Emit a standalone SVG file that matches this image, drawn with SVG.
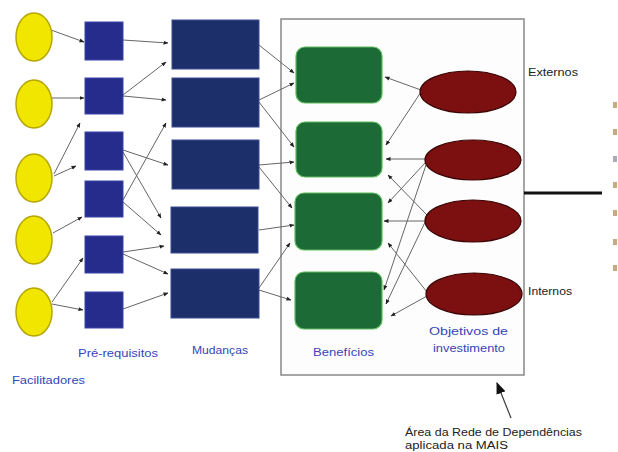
<svg xmlns="http://www.w3.org/2000/svg" width="618" height="452" viewBox="0 0 618 452">
<defs>
<marker id="ah" viewBox="0 0 10 10" refX="9" refY="5" markerWidth="5" markerHeight="5" markerUnits="userSpaceOnUse" orient="auto">
<path d="M0,1 L10,5 L0,9 z" fill="#222"/>
</marker>
<marker id="bigah" viewBox="0 0 10 10" refX="9" refY="5" markerWidth="12" markerHeight="12" markerUnits="userSpaceOnUse" orient="auto">
<path d="M0,1 L10,5 L0,9 z" fill="#111"/>
</marker>
</defs>
<style>
.fac{fill:#f0e600;stroke:#b5a600;stroke-width:1.5}
.pre{fill:#262c8c;stroke:#3a44a8;stroke-width:1}
.mud{fill:#1c2f6a;stroke:#3a4c90;stroke-width:1}
.ben{fill:#1c6a36;stroke:#5dbb5d;stroke-width:1.2}
.obj{fill:#7c1010;stroke:#3a0505;stroke-width:1.2}
.c line{stroke:#666;stroke-width:1;marker-end:url(#ah)}
.lbl{font-family:"Liberation Sans",Arial,sans-serif;font-size:10px;fill:#3446b8}
.blk{font-family:"Liberation Sans",Arial,sans-serif;font-size:10px;fill:#222}
</style>
<rect width="618" height="452" fill="#ffffff"/>
<rect id="area" x="281" y="19" width="243" height="356" fill="#fdfdfd" stroke="#888" stroke-width="1.5"/>
<g class="c" id="connectors">
<line x1="51" y1="30" x2="84" y2="42"/>
<line x1="52" y1="98" x2="84" y2="98"/>
<line x1="54" y1="174" x2="80" y2="123"/>
<line x1="54" y1="176" x2="76" y2="166"/>
<line x1="53" y1="233" x2="82" y2="217"/>
<line x1="52" y1="302" x2="83" y2="258"/>
<line x1="52" y1="304" x2="83" y2="310"/>
<line x1="123" y1="40" x2="168" y2="43"/>
<line x1="123" y1="95" x2="166" y2="62"/>
<line x1="123" y1="96" x2="166" y2="100"/>
<line x1="123" y1="150" x2="168" y2="165"/>
<line x1="123" y1="152" x2="161" y2="218"/>
<line x1="123" y1="200" x2="166" y2="123"/>
<line x1="123" y1="202" x2="161" y2="235"/>
<line x1="123" y1="252" x2="164" y2="246"/>
<line x1="123" y1="254" x2="168" y2="274"/>
<line x1="123" y1="309" x2="168" y2="293"/>
<line x1="259" y1="45" x2="294" y2="73"/>
<line x1="259" y1="100" x2="294" y2="83"/>
<line x1="259" y1="102" x2="294" y2="147"/>
<line x1="259" y1="165" x2="294" y2="162"/>
<line x1="259" y1="167" x2="292" y2="208"/>
<line x1="259" y1="230" x2="294" y2="225"/>
<line x1="259" y1="288" x2="290" y2="243"/>
<line x1="259" y1="290" x2="291" y2="300"/>
<line x1="421" y1="90" x2="385" y2="77"/>
<line x1="421" y1="92" x2="386" y2="145"/>
<line x1="425" y1="159" x2="386" y2="159"/>
<line x1="427" y1="215" x2="388" y2="175"/>
<line x1="425" y1="163" x2="388" y2="203"/>
<line x1="425" y1="221" x2="384" y2="221"/>
<line x1="427" y1="292" x2="388" y2="243"/>
<line x1="426" y1="165" x2="384" y2="290"/>
<line x1="427" y1="218" x2="386" y2="304"/>
<line x1="427" y1="296" x2="391" y2="316"/>
</g>
<g id="facilitadores">
<ellipse class="fac" cx="34" cy="37" rx="18" ry="24"/>
<ellipse class="fac" cx="34" cy="104" rx="18" ry="24"/>
<ellipse class="fac" cx="34" cy="178" rx="18" ry="24"/>
<ellipse class="fac" cx="34" cy="240" rx="18" ry="24"/>
<ellipse class="fac" cx="34" cy="312" rx="18" ry="24"/>
</g>
<g id="pre-requisitos">
<rect class="pre" x="85" y="22" width="38" height="38"/>
<rect class="pre" x="85" y="78" width="38" height="36"/>
<rect class="pre" x="85" y="132" width="38" height="38"/>
<rect class="pre" x="85" y="181" width="38" height="36"/>
<rect class="pre" x="85" y="236" width="38" height="37"/>
<rect class="pre" x="85" y="292" width="38" height="36"/>
</g>
<g id="mudancas">
<rect class="mud" x="172" y="20" width="87" height="49"/>
<rect class="mud" x="172" y="78" width="87" height="49"/>
<rect class="mud" x="172" y="140" width="87" height="49"/>
<rect class="mud" x="171" y="207" width="87" height="46"/>
<rect class="mud" x="171" y="269" width="88" height="49"/>
</g>
<g id="beneficios">
<rect class="ben" x="296" y="47" width="86" height="56" rx="9"/>
<rect class="ben" x="296" y="122" width="86" height="55" rx="9"/>
<rect class="ben" x="295" y="193" width="87" height="57" rx="9"/>
<rect class="ben" x="295" y="272" width="87" height="57" rx="9"/>
</g>
<g id="objetivos">
<ellipse class="obj" cx="468" cy="92" rx="48" ry="21"/>
<ellipse class="obj" cx="473" cy="160" rx="48" ry="20"/>
<ellipse class="obj" cx="473" cy="221" rx="48" ry="21"/>
<ellipse class="obj" cx="474" cy="294" rx="48" ry="21"/>
</g>
<g id="labels">
<text class="lbl" x="12" y="384" textLength="73" lengthAdjust="spacingAndGlyphs">Facilitadores</text>
<text class="lbl" x="78" y="357" textLength="80" lengthAdjust="spacingAndGlyphs">Pré-requisitos</text>
<text class="lbl" x="192" y="354" textLength="56" lengthAdjust="spacingAndGlyphs">Mudanças</text>
<text class="lbl" x="313" y="356" textLength="61" lengthAdjust="spacingAndGlyphs">Benefícios</text>
<text class="lbl" x="429" y="335" textLength="79" lengthAdjust="spacingAndGlyphs">Objetivos de</text>
<text class="lbl" x="433" y="352" textLength="72" lengthAdjust="spacingAndGlyphs">investimento</text>
<text class="blk" x="528" y="76" textLength="50" lengthAdjust="spacingAndGlyphs">Externos</text>
<text class="blk" x="528" y="295" textLength="44" lengthAdjust="spacingAndGlyphs">Internos</text>
<text class="blk" x="405" y="436" textLength="177" lengthAdjust="spacingAndGlyphs">Área da Rede de Dependências</text>
<text class="blk" x="405" y="449" textLength="103" lengthAdjust="spacingAndGlyphs">aplicada na MAIS</text>
</g>
<g id="annotation">
<line x1="511" y1="418" x2="497" y2="383" stroke="#333" stroke-width="1.2" marker-end="url(#bigah)"/>
<line x1="524" y1="193" x2="602" y2="193" stroke="#111" stroke-width="3"/>
</g>
<g id="cutoff" fill="#c9a97e">
<rect x="613" y="102" width="4" height="6"/>
<rect x="613" y="129" width="4" height="6"/>
<rect x="613" y="156" width="4" height="6" fill="#aab"/>
<rect x="613" y="182" width="4" height="6"/>
<rect x="613" y="210" width="4" height="6"/>
<rect x="613" y="239" width="4" height="6"/>
<rect x="613" y="265" width="4" height="6"/>
</g>
</svg>
